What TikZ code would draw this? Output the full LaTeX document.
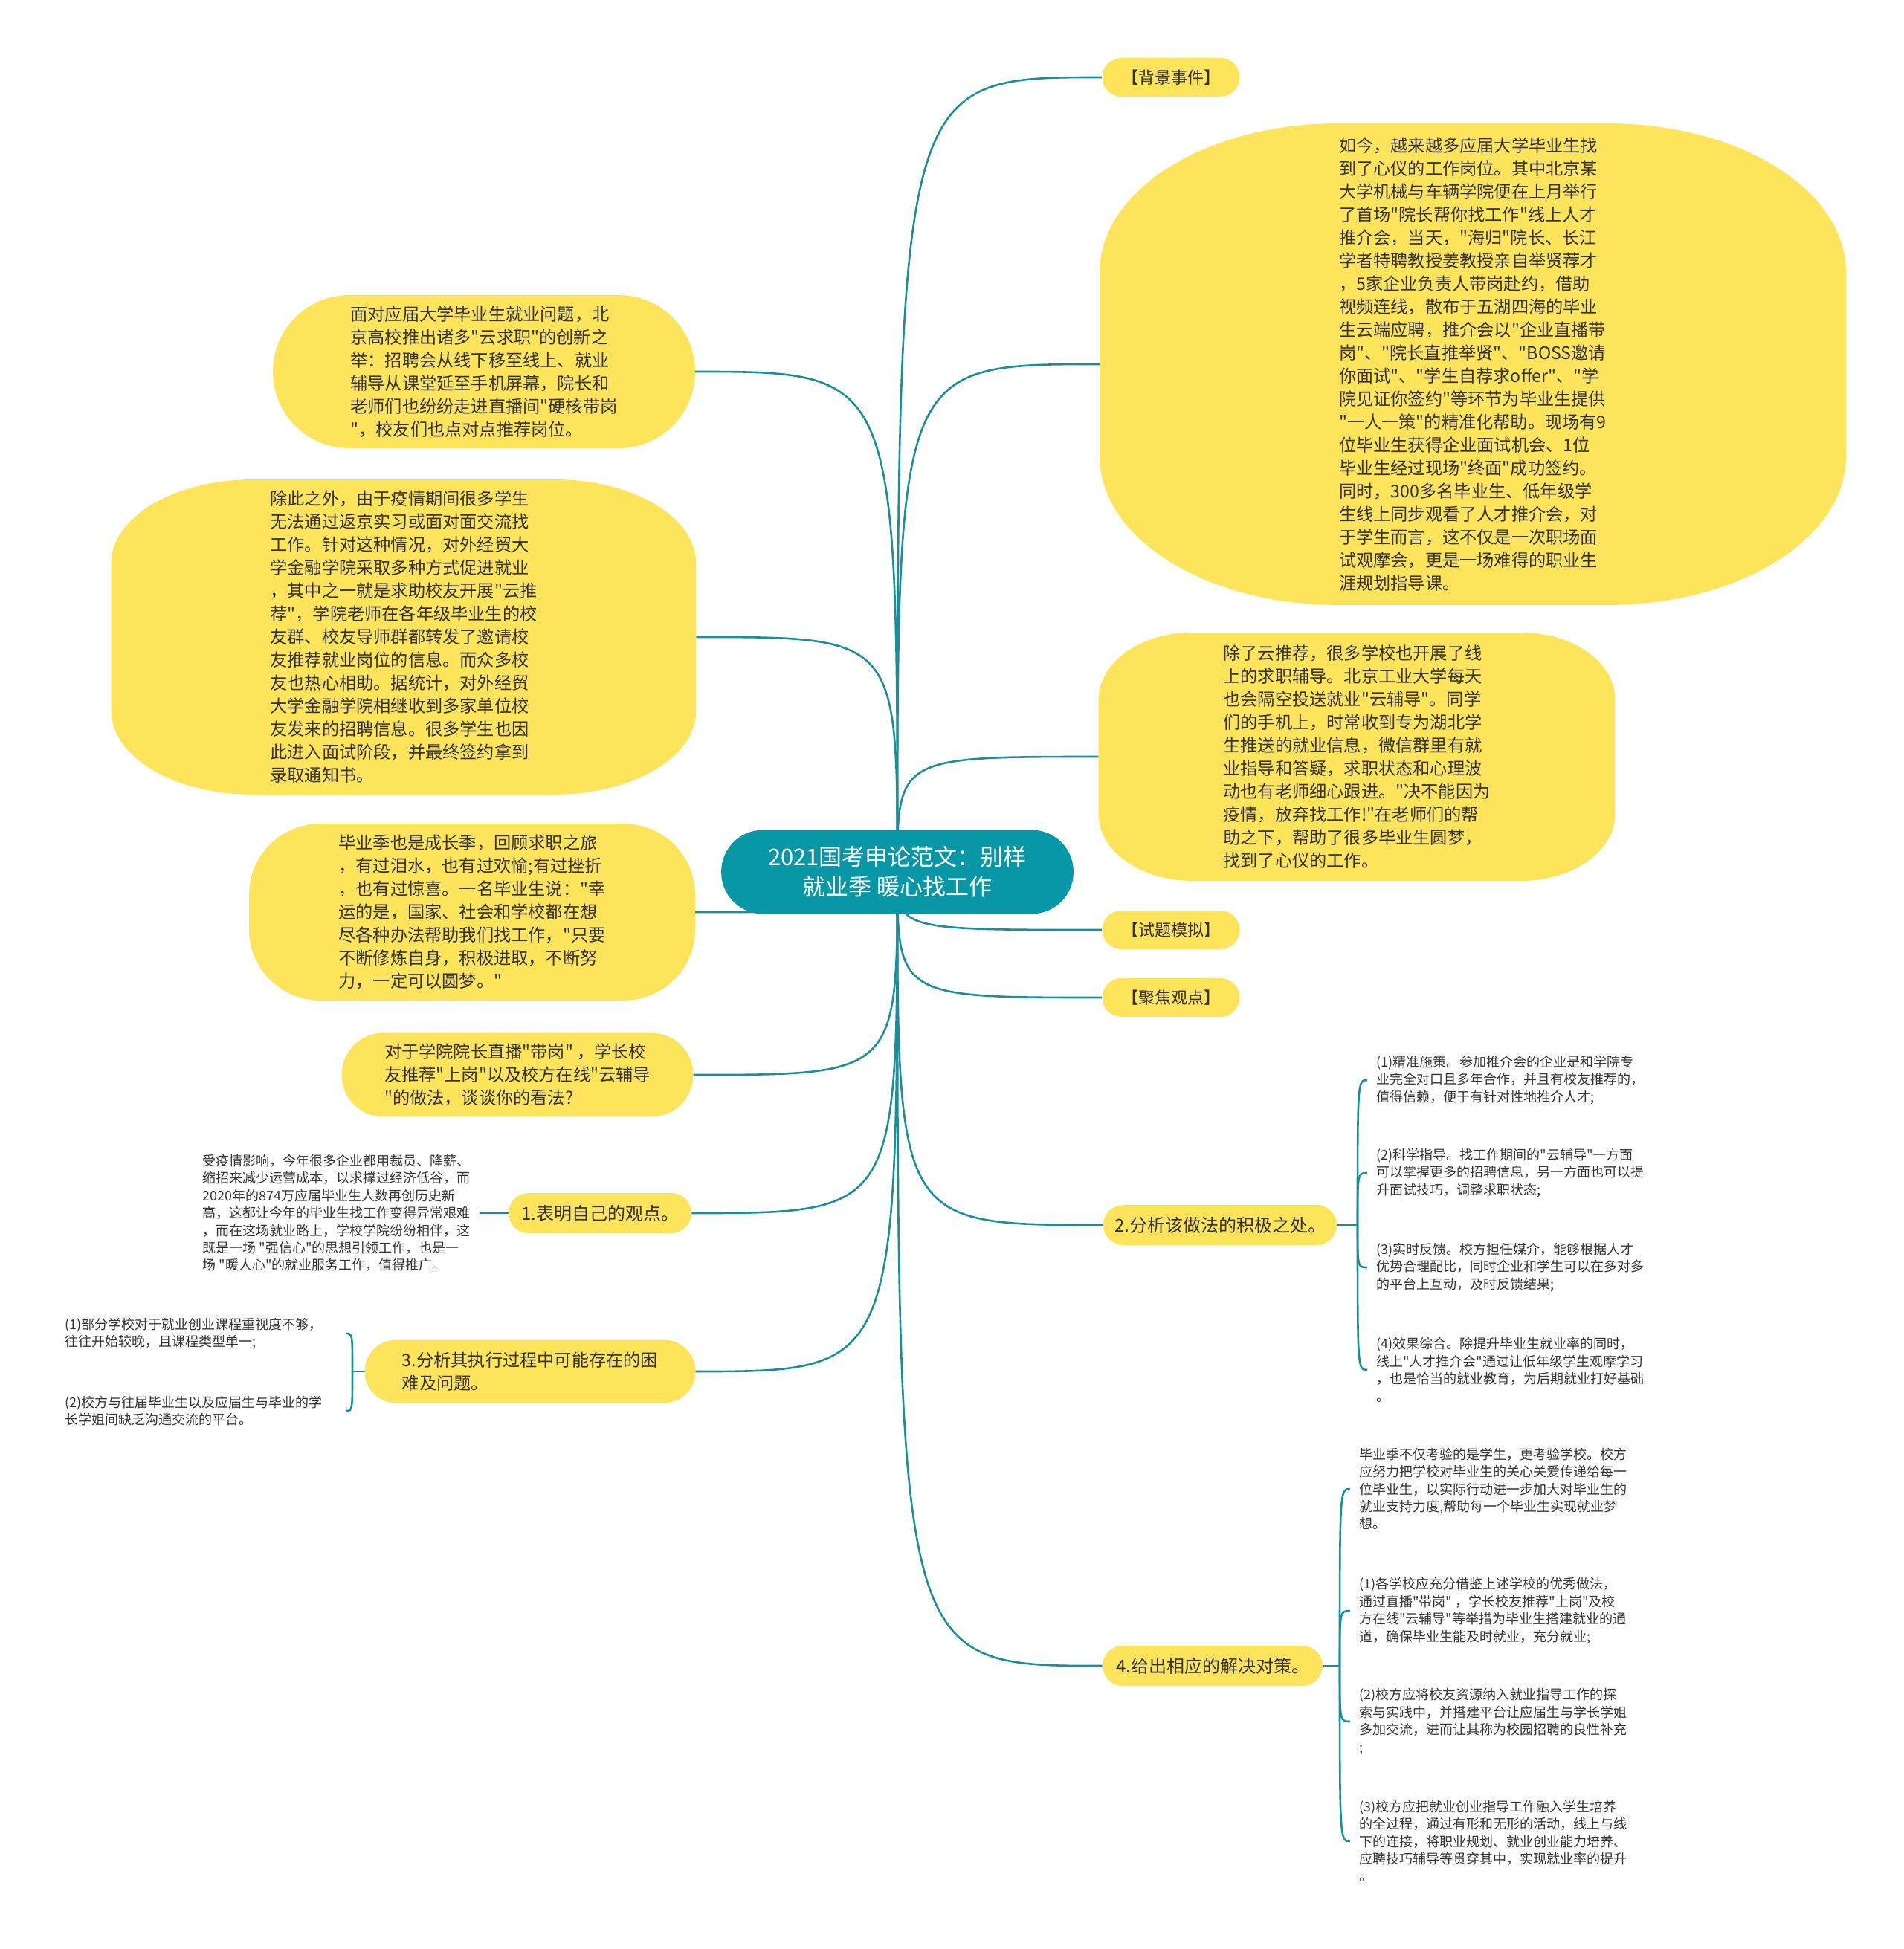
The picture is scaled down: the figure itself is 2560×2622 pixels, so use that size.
\documentclass[tikz,border=0pt]{standalone}
\usepackage{fontspec}
\setmainfont{Noto Sans CJK SC}[Ligatures=TeXOff]
\usetikzlibrary{positioning,shapes.misc,backgrounds}
\definecolor{hubTeal}{HTML}{0897A7}
\definecolor{branchTeal}{HTML}{1A8F9C}
\definecolor{noteYellow}{HTML}{FEE45B}
\definecolor{ink}{HTML}{333333}
% filled box with elliptic corners behind a named node
\newcommand{\blobfill}[4][noteYellow]{%
  \fill[#1] ([xshift=#3]#2.north west) -- ([xshift=-#3]#2.north east)
    arc[start angle=90, end angle=0, x radius=#3, y radius=#4]
    -- ([yshift=#4]#2.south east)
    arc[start angle=0, end angle=-90, x radius=#3, y radius=#4]
    -- ([xshift=#3]#2.south west)
    arc[start angle=270, end angle=180, x radius=#3, y radius=#4]
    -- ([yshift=-#4]#2.north west)
    arc[start angle=180, end angle=90, x radius=#3, y radius=#4]
    -- cycle;}

\begin{document}
\begin{tikzpicture}[
  x=0.5pt, y=-0.5pt,
  font=\fontsize{11.6}{15.5}\selectfont,
  hub/.style={rectangle, inner sep=0pt, align=center, text=white,
              font=\fontsize{15.5}{20}\selectfont},
  blob/.style={rectangle, inner sep=0pt, align=left, text=ink},
  tag/.style={rounded rectangle, fill=noteYellow, text=ink, inner sep=2pt,
              minimum width=96.5pt, minimum height=26pt, font=\fontsize{11}{13}\selectfont},
  topic/.style={rounded rectangle, fill=noteYellow, text=ink, inner sep=2pt,
                minimum height=27pt, font=\fontsize{12}{15}\selectfont},
  leaf/.style={inner xsep=6pt, inner ysep=2pt, align=left, text=ink,
               font=\fontsize{9}{11.7}\selectfont},
  link/.style={draw=branchTeal, line width=1.3pt}
]
\useasboundingbox (0,0) rectangle (2560,2622);

% centre
\node[hub, minimum width=236.5pt, minimum height=56pt] (root) at (1207,1173)
  {2021国考申论范文：别样\\就业季 暖心找工作};

% right side
\node[tag] (bg) at (1575,104) {【背景事件】};

\node[blob, minimum width=501.5pt, minimum height=323.5pt] (news) at (1981,490) {%
  如今，越来越多应届大学毕业生找\\
  到了心仪的工作岗位。其中北京某\\
  大学机械与车辆学院便在上月举行\\
  了首场"院长帮你找工作"线上人才\\
  推介会，当天，"海归"院长、长江\\
  学者特聘教授姜教授亲自举贤荐才\\
  ，5家企业负责人带岗赴约，借助\\
  视频连线，散布于五湖四海的毕业\\
  生云端应聘，推介会以"企业直播带\\
  岗"、"院长直推举贤"、"BOSS邀请\\
  你面试"、"学生自荐求offer"、"学\\
  院见证你签约"等环节为毕业生提供\\
  "一人一策"的精准化帮助。现场有9\\
  位毕业生获得企业面试机会、1位\\
  毕业生经过现场"终面"成功签约。\\
  同时，300多名毕业生、低年级学\\
  生线上同步观看了人才推介会，对\\
  于学生而言，这不仅是一次职场面\\
  试观摩会，更是一场难得的职业生\\
  涯规划指导课。};

\node[blob, minimum width=347pt, minimum height=166.5pt] (tutor) at (1825,1018) {%
  除了云推荐，很多学校也开展了线\\
  上的求职辅导。北京工业大学每天\\
  也会隔空投送就业"云辅导"。同学\\
  们的手机上，时常收到专为湖北学\\
  生推送的就业信息，微信群里有就\\
  业指导和答疑，求职状态和心理波\\
  动也有老师细心跟进。"决不能因为\\
  疫情，放弃找工作!"在老师们的帮\\
  助之下，帮助了很多毕业生圆梦，\\
  找到了心仪的工作。};

\node[tag] (sim) at (1575,1251) {【试题模拟】};
\node[tag] (focus) at (1575,1342) {【聚焦观点】};

\node[topic, minimum width=161pt] (q2) at (1641,1648) {2.分析该做法的积极之处。};
\coordinate (q2fork) at (1826,1648);
\node[leaf, anchor=west] (q2a) at (1839,1453)
  {(1)精准施策。参加推介会的企业是和学院专\\业完全对口且多年合作，并且有校友推荐的，\\值得信赖，便于有针对性地推介人才;};
\node[leaf, anchor=west] (q2b) at (1839,1578)
  {(2)科学指导。找工作期间的"云辅导"一方面\\可以掌握更多的招聘信息，另一方面也可以提\\升面试技巧，调整求职状态;};
\node[leaf, anchor=west] (q2c) at (1839,1705)
  {(3)实时反馈。校方担任媒介，能够根据人才\\优势合理配比，同时企业和学生可以在多对多\\的平台上互动，及时反馈结果;};
\node[leaf, anchor=west] (q2d) at (1839,1843)
  {(4)效果综合。除提升毕业生就业率的同时，\\线上"人才推介会"通过让低年级学生观摩学习\\，也是恰当的就业教育，为后期就业打好基础\\。};

\node[topic, minimum width=152pt] (q4) at (1631,2241) {4.给出相应的解决对策。};
\coordinate (q4fork) at (1802,2241);
\node[leaf, anchor=west] (q4a) at (1816,2003)
  {毕业季不仅考验的是学生，更考验学校。校方\\应努力把学校对毕业生的关心关爱传递给每一\\位毕业生，以实际行动进一步加大对毕业生的\\就业支持力度,帮助每一个毕业生实现就业梦\\想。};
\node[leaf, anchor=west] (q4b) at (1816,2167)
  {(1)各学校应充分借鉴上述学校的优秀做法，\\通过直播"带岗" ，学长校友推荐"上岗"及校\\方在线"云辅导"等举措为毕业生搭建就业的通\\道，确保毕业生能及时就业，充分就业;};
\node[leaf, anchor=west] (q4c) at (1816,2316)
  {(2)校方应将校友资源纳入就业指导工作的探\\索与实践中，并搭建平台让应届生与学长学姐\\多加交流，进而让其称为校园招聘的良性补充\\;};
\node[leaf, anchor=west] (q4d) at (1816,2477)
  {(3)校方应把就业创业指导工作融入学生培养\\的全过程，通过有形和无形的活动，线上与线\\下的连接，将职业规划、就业创业能力培养、\\应聘技巧辅导等贯穿其中，实现就业率的提升\\。};

% left side
\node[blob, minimum width=283.5pt, minimum height=102.5pt] (l1) at (651,500) {%
  面对应届大学毕业生就业问题，北\\
  京高校推出诸多"云求职"的创新之\\
  举：招聘会从线下移至线上、就业\\
  辅导从课堂延至手机屏幕，院长和\\
  老师们也纷纷走进直播间"硬核带岗\\
  "，校友们也点对点推荐岗位。};

\node[blob, minimum width=393pt, minimum height=211.5pt] (l2) at (543,857) {%
  除此之外，由于疫情期间很多学生\\
  无法通过返京实习或面对面交流找\\
  工作。针对这种情况，对外经贸大\\
  学金融学院采取多种方式促进就业\\
  ，其中之一就是求助校友开展"云推\\
  荐"，学院老师在各年级毕业生的校\\
  友群、校友导师群都转发了邀请校\\
  友推荐就业岗位的信息。而众多校\\
  友也热心相助。据统计，对外经贸\\
  大学金融学院相继收到多家单位校\\
  友发来的招聘信息。很多学生也因\\
  此进入面试阶段，并最终签约拿到\\
  录取通知书。};

\node[blob, minimum width=299.5pt, minimum height=118.5pt] (l3) at (635,1227) {%
  毕业季也是成长季，回顾求职之旅\\
  ，有过泪水，也有过欢愉;有过挫折\\
  ，也有过惊喜。一名毕业生说："幸\\
  运的是，国家、社会和学校都在想\\
  尽各种办法帮助我们找工作，"只要\\
  不断修炼自身，积极进取，不断努\\
  力，一定可以圆梦。"};

\node[blob, minimum width=236pt, minimum height=56pt] (l4) at (696,1446) {%
  对于学院院长直播"带岗" ，学长校\\
  友推荐"上岗"以及校方在线"云辅导\\
  "的做法，谈谈你的看法?};

\node[topic, minimum width=127pt] (q1) at (807,1632) {1.表明自己的观点。};
\node[leaf, anchor=east] (p1) at (645,1632)
  {受疫情影响，今年很多企业都用裁员、降薪、\\缩招来减少运营成本，以求撑过经济低谷，而\\2020年的874万应届毕业生人数再创历史新\\高，这都让今年的毕业生找工作变得异常艰难\\，而在这场就业路上，学校学院纷纷相伴，这\\既是一场 "强信心"的思想引领工作，也是一\\场 "暖人心"的就业服务工作，值得推广。};

\node[blob, minimum width=222pt, minimum height=42pt,
      font=\fontsize{11.6}{15.5}\selectfont] (q3) at (713,1845)
  {3.分析其执行过程中可能存在的困\\难及问题。};
\coordinate (q3fork) at (474,1845);
\node[leaf, anchor=west, text width=183pt] (d1) at (75,1794)
  {(1)部分学校对于就业创业课程重视度不够，\\往往开始较晚，且课程类型单一;};
\node[leaf, anchor=west, text width=183pt] (d2) at (75,1898)
  {(2)校方与往届毕业生以及应届生与毕业的学\\长学姐间缺乏沟通交流的平台。};

\begin{scope}[on background layer]
  \fill[white] (0,0) rectangle (2560,2622);
  % branches from the centre
  \foreach \n in {bg,news,tutor,sim,focus,q2,q4}
    \draw[link] (root.center) .. controls (root.center |- \n.west) .. (\n.west);
  \foreach \n in {l1,l2,l3,l4,q1,q3}
    \draw[link] (root.center) .. controls (root.center |- \n.east) .. (\n.east);
  % brackets
  \draw[link] (q2.east) -- (q2fork);
  \foreach \n in {q2a,q2b,q2c,q2d}
    \draw[link] (q2fork) .. controls (q2fork |- \n.west) .. (\n.west);
  \draw[link] (q4.east) -- (q4fork);
  \foreach \n in {q4a,q4b,q4c,q4d}
    \draw[link] (q4fork) .. controls (q4fork |- \n.west) .. (\n.west);
  \draw[link] (q3.west) -- (q3fork);
  \foreach \n in {d1,d2}
    \draw[link] (q3fork) .. controls (q3fork |- \n.east) .. (\n.east);
  \draw[link] (p1.east) -- (q1.west);
  % shapes
  \blobfill[hubTeal]{root}{28pt}{28pt}
  \blobfill{news}{160pt}{100pt}
  \blobfill{tutor}{62.5pt}{45pt}
  \blobfill{l1}{51.25pt}{51.25pt}
  \blobfill{l2}{95pt}{56.5pt}
  \blobfill{l3}{48pt}{47.5pt}
  \blobfill{l4}{28pt}{28pt}
  \blobfill{q3}{21pt}{21pt}
\end{scope}
\end{tikzpicture}
\end{document}
